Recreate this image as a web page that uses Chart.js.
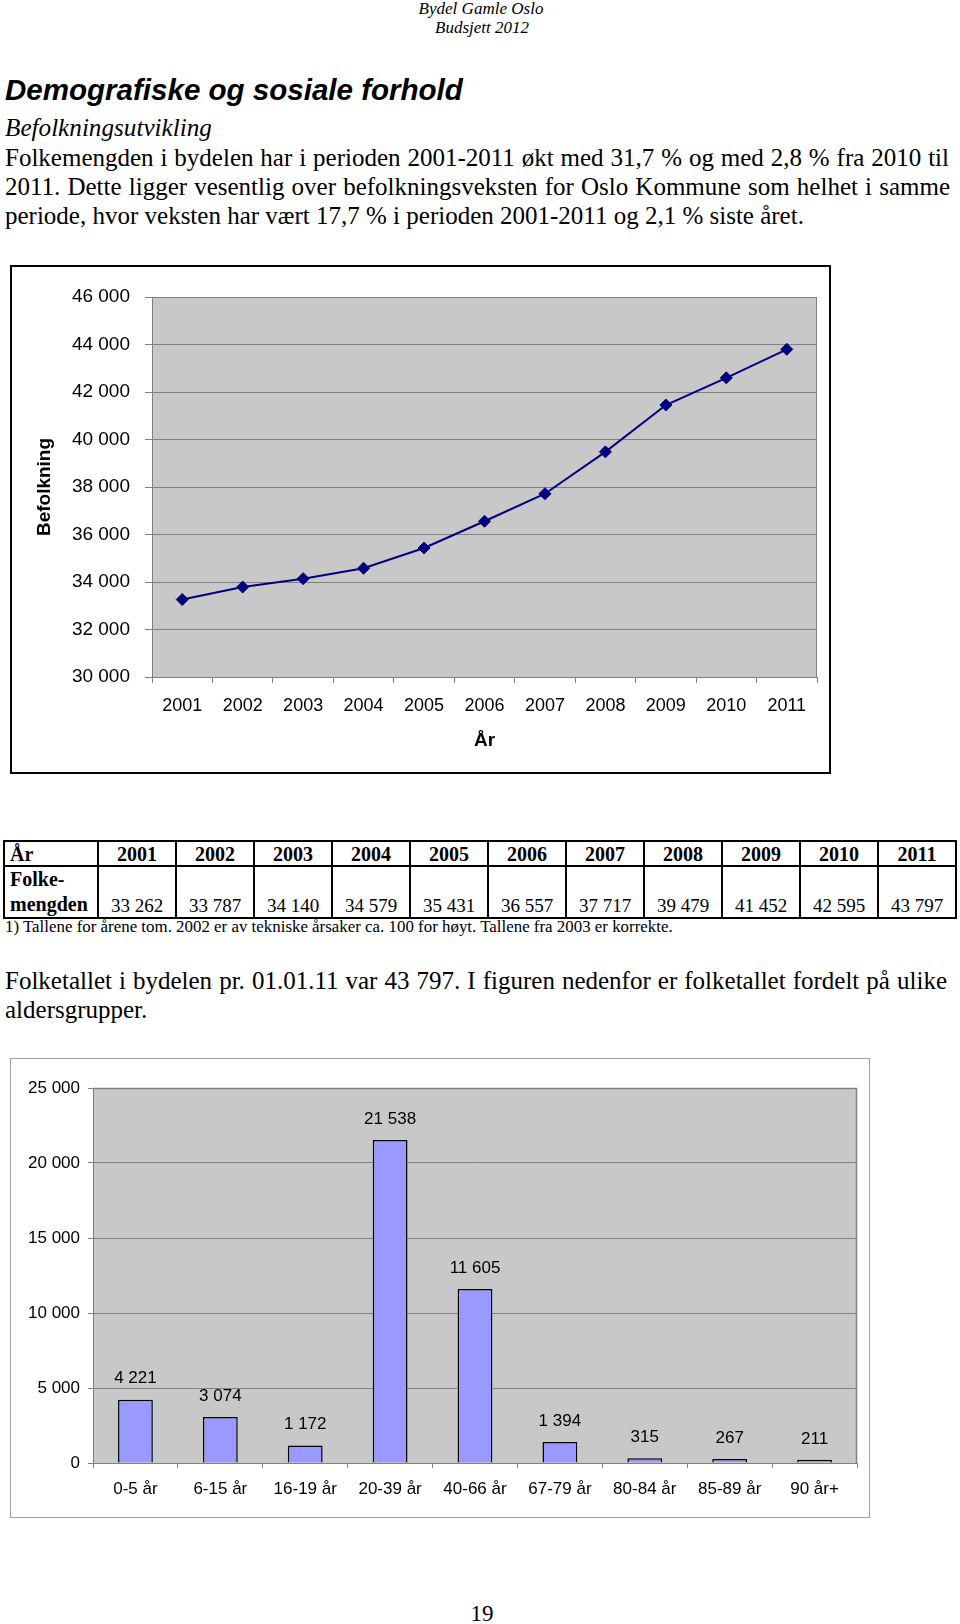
<!DOCTYPE html>
<html lang="no">
<head>
<meta charset="utf-8">
<title>Bydel Gamle Oslo – Budsjett 2012</title>
<script src="https://cdn.jsdelivr.net/npm/chart.js@4.4.1/dist/chart.umd.min.js"></script>
<style>
  html, body { margin: 0; padding: 0; background: #fff; }
  body {
    width: 960px; height: 1624px; position: relative; overflow: hidden;
    font-family: "Liberation Serif", "Times New Roman", serif; color: #000;
  }
  .t { position: absolute; white-space: nowrap; line-height: 1; transform: translateY(-54%); }
  .c { transform: translate(-50%, -54%); }
  .sans { font-family: "Liberation Sans", Arial, sans-serif; transform: translateY(-52%); }
  .just { white-space: normal; text-align: justify; text-align-last: justify; }
  .box { position: absolute; box-sizing: border-box; }
  canvas { position: absolute; }
  #folkeTabell {
    position: absolute; left: 3px; top: 840px; width: 954px;
    border-collapse: collapse; table-layout: fixed;
  }
  #folkeTabell td { border: 2px solid #000; padding: 0 2px; font-size: 19px; line-height: 1.1; text-align: center; }
  #folkeTabell tr.head td { height: 23px; font-weight: bold; font-size: 20px; vertical-align: middle; }
  #folkeTabell tr.vals td { height: 48px; vertical-align: bottom; padding-bottom: 0; }
  #folkeTabell td.first { text-align: left; padding-left: 5px; font-weight: bold; font-size: 20px; }
  #folkeTabell tr.vals td.first { line-height: 1.25; }
</style>
</head>
<body>

<div class="t c" style="left:481px; top:9px; font-style:italic; font-size:16px;" data-w="125">Bydel Gamle Oslo</div>
<div class="t c" style="left:482px; top:28px; font-style:italic; font-size:16px;" data-w="94">Budsjett 2012</div>

<div class="t sans" style="left:5px; top:90px; font-size:29px; font-weight:bold; font-style:italic;" data-w="458">Demografiske og sosiale forhold</div>
<div class="t" style="left:5px; top:129px; font-size:23px; font-style:italic;" data-w="207">Befolkningsutvikling</div>

<div class="t just" style="left:5px; top:158px; width:944px; font-size:25px;">Folkemengden i bydelen har i perioden 2001-2011 økt med 31,7 % og med 2,8 % fra 2010 til</div>
<div class="t just" style="left:5px; top:187px; width:945px; font-size:25px;">2011. Dette ligger vesentlig over befolkningsveksten for Oslo Kommune som helhet i samme</div>
<div class="t" style="left:5px; top:216px; font-size:25px;">periode, hvor veksten har vært 17,7 % i perioden 2001-2011 og 2,1 % siste året.</div>

<!-- Figur 1: befolkningsutvikling -->
<div class="box" style="left:10px; top:265px; width:821px; height:509px; border:2px solid #000;"></div>
<canvas id="befolkningChart" width="821" height="509" style="left:10px; top:265px; width:821px; height:509px;"></canvas>

<table id="folkeTabell"></table>
<div class="t" style="left:5px; top:928px; font-size:15px;" data-w="668">1) Tallene for årene tom. 2002 er av tekniske årsaker ca. 100 for høyt. Tallene fra 2003 er korrekte.</div>

<div class="t just" style="left:5px; top:981px; width:942px; font-size:25px;">Folketallet i bydelen pr. 01.01.11 var 43 797. I figuren nedenfor er folketallet fordelt på ulike</div>
<div class="t" style="left:5px; top:1010px; font-size:25px;">aldersgrupper.</div>

<!-- Figur 2: aldersgrupper -->
<div class="box" style="left:10px; top:1058px; width:860px; height:460px; border:1px solid #a0a0a0;"></div>
<canvas id="alderChart" width="860" height="460" style="left:10px; top:1058px; width:860px; height:460px;"></canvas>

<div class="t c" style="left:482px; top:1614px; font-size:23px;">19</div>

<script>
// ── Data ────────────────────────────────────────────────────────
const aar = ['2001', '2002', '2003', '2004', '2005', '2006', '2007', '2008', '2009', '2010', '2011'];
const folkemengde = [33262, 33787, 34140, 34579, 35431, 36557, 37717, 39479, 41452, 42595, 43797];
const befMin = 30000, befMax = 46000, befSteg = 2000;

const aldersgrupper = ['0-5 år', '6-15 år', '16-19 år', '20-39 år', '40-66 år', '67-79 år', '80-84 år', '85-89 år', '90 år+'];
const antallPerGruppe = [4221, 3074, 1172, 21538, 11605, 1394, 315, 267, 211];
const alderMin = 0, alderMax = 25000, alderSteg = 5000;

const FONT = 'Liberation Sans';
const PLOT_GRAY = '#c8c8c8';
const LINE_GRAY = '#808080';

// "43797" -> "43 797"
function fmt(v) {
    return String(v).replace(/\B(?=(\d{3})+(?!\d))/g, ' ');
}

// ── Tekst: tilpass bredde ───────────────────────────────────────
document.querySelectorAll('[data-w]').forEach(function (el) {
    const target = +el.dataset.w;
    const fs = parseFloat(getComputedStyle(el).fontSize);
    const w = el.getBoundingClientRect().width;
    if (w > 0) el.style.fontSize = (fs * target / w).toFixed(2) + 'px';
});

// ── Tabell ──────────────────────────────────────────────────────
(function byggTabell() {
    const tab = document.getElementById('folkeTabell');
    let html = '<colgroup><col style="width:94px">' + aar.map(() => '<col>').join('') + '</colgroup>';
    html += '<tr class="head"><td class="first">År</td>' + aar.map(a => '<td>' + a + '</td>').join('') + '</tr>';
    html += '<tr class="vals"><td class="first">Folke-<br>mengden</td>' +
        folkemengde.map(v => '<td>' + fmt(v) + '</td>').join('') + '</tr>';
    tab.innerHTML = html;
})();

// ── Plugins ─────────────────────────────────────────────────────
const plotBg = {
    id: 'plotBg',
    beforeDraw(chart, args, opts) {
        const { ctx, chartArea: a } = chart;
        ctx.save();
        ctx.fillStyle = opts.color;
        ctx.fillRect(a.left, a.top, a.right - a.left, a.bottom - a.top);
        ctx.restore();
    },
    beforeDatasetsDraw(chart, args, opts) {
        const { ctx, chartArea: a } = chart;
        ctx.save();
        ctx.strokeStyle = opts.border;
        ctx.lineWidth = opts.borderWidth || 1;
        ctx.beginPath();
        ctx.moveTo(a.left, a.top + 0.5);
        ctx.lineTo(a.right - 0.5, a.top + 0.5);
        ctx.lineTo(a.right - 0.5, a.bottom);
        ctx.stroke();
        ctx.restore();
    }
};

const verdiEtiketter = {
    id: 'verdiEtiketter',
    afterDatasetsDraw(chart, args, opts) {
        if (!opts.display) return;
        const { ctx } = chart;
        const ds = chart.data.datasets[0];
        const meta = chart.getDatasetMeta(0);
        ctx.save();
        ctx.font = opts.size + 'px "' + FONT + '"';
        ctx.fillStyle = '#000';
        ctx.textAlign = 'center';
        ctx.textBaseline = 'middle';
        meta.data.forEach((bar, i) => {
            ctx.fillText(fmt(ds.data[i]), bar.x, bar.y - opts.offset);
        });
        ctx.restore();
    }
};

// ── Figur 1: linje ──────────────────────────────────────────────
new Chart(document.getElementById('befolkningChart'), {
    type: 'line',
    data: {
        labels: aar,
        datasets: [{
            data: folkemengde,
            borderColor: '#000080',
            backgroundColor: '#000080',
            borderWidth: 2,
            pointStyle: 'rectRot',
            pointRadius: 6,
            pointBorderWidth: 1,
            tension: 0
        }]
    },
    plugins: [plotBg],
    options: {
        responsive: false,
        animation: false,
        devicePixelRatio: 1,
        layout: { padding: { left: 0, right: 14, top: 32, bottom: 0 } },
        plugins: {
            legend: { display: false },
            tooltip: { enabled: false },
            plotBg: { color: PLOT_GRAY, border: LINE_GRAY, borderWidth: 1 }
        },
        scales: {
            x: {
                offset: true,
                grid: { offset: true, drawOnChartArea: false, drawTicks: true, tickLength: 6, color: LINE_GRAY },
                border: { display: true, color: LINE_GRAY, width: 1 },
                ticks: { padding: 12, color: '#000', autoSkip: false, maxRotation: 0, font: { family: FONT, size: 18 } },
                title: { display: true, text: 'År', color: '#000', font: { family: FONT, size: 19, weight: 'bold' }, padding: { top: 0, bottom: 22 } },
                afterFit(s) { s.height = 97; }
            },
            y: {
                min: befMin,
                max: befMax,
                grid: { color: LINE_GRAY, tickLength: 7 },
                border: { display: true, color: LINE_GRAY, width: 1 },
                ticks: { stepSize: befSteg, padding: 15, color: '#000', callback: v => fmt(v), font: { family: FONT, size: 19 } },
                title: { display: true, text: 'Befolkning', color: '#000', font: { family: FONT, size: 19, weight: 'bold' }, padding: { top: 23, bottom: 0 } },
                afterFit(s) { s.width = 142; }
            }
        }
    }
});

// ── Figur 2: stolper ────────────────────────────────────────────
new Chart(document.getElementById('alderChart'), {
    type: 'bar',
    data: {
        labels: aldersgrupper,
        datasets: [{
            data: antallPerGruppe,
            backgroundColor: '#9999ff',
            borderColor: '#000',
            borderWidth: 1.5,
            barPercentage: 0.41,
            categoryPercentage: 1
        }]
    },
    plugins: [plotBg, verdiEtiketter],
    options: {
        responsive: false,
        animation: false,
        devicePixelRatio: 1,
        layout: { padding: { left: 0, right: 13, top: 30, bottom: 0 } },
        plugins: {
            legend: { display: false },
            tooltip: { enabled: false },
            plotBg: { color: PLOT_GRAY, border: LINE_GRAY, borderWidth: 1.5 },
            verdiEtiketter: { display: true, size: 17, offset: 21 }
        },
        scales: {
            x: {
                grid: { offset: true, drawOnChartArea: false, drawTicks: true, tickLength: 5, color: LINE_GRAY },
                border: { display: true, color: LINE_GRAY, width: 1 },
                ticks: { padding: 11, color: '#000', autoSkip: false, maxRotation: 0, font: { family: FONT, size: 17 } },
                afterFit(s) { s.height = 55; }
            },
            y: {
                min: alderMin,
                max: alderMax,
                grid: { color: LINE_GRAY, tickLength: 5 },
                border: { display: true, color: LINE_GRAY, width: 1 },
                ticks: { stepSize: alderSteg, padding: 8, color: '#000', callback: v => fmt(v), font: { family: FONT, size: 17 } },
                afterFit(s) { s.width = 83; }
            }
        }
    }
});
</script>
</body>
</html>
